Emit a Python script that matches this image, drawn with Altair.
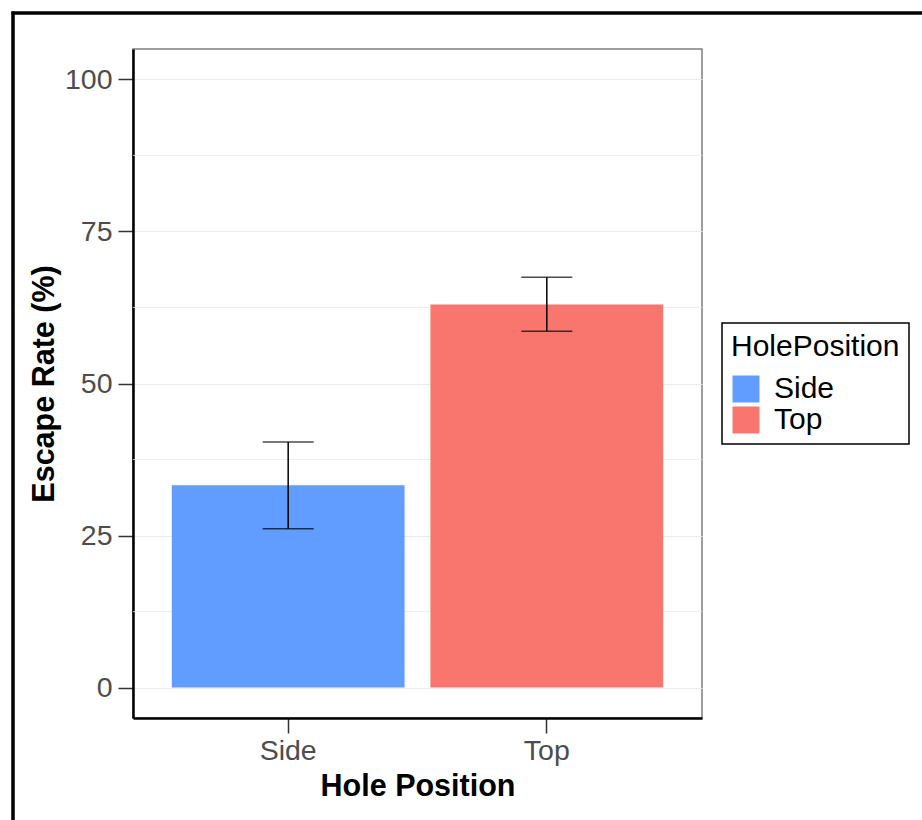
import altair as alt
import pandas as pd

positions = ["Side", "Top"]
escape_rate = [33.25, 63.0]
lower = [26.1, 58.6]
upper = [40.4, 67.45]
colors = ["#619CFF", "#F8766D"]
minor_breaks = [12.5, 37.5, 62.5, 87.5]

df = pd.DataFrame({"HolePosition": positions, "rate": escape_rate, "lo": lower, "hi": upper})
minor_df = pd.DataFrame({"m": minor_breaks})

FONT = "Liberation Sans"

xscale = alt.Scale(domain=positions, paddingInner=0.1, paddingOuter=0.15)
yscale = alt.Scale(domain=[-5, 105], nice=False, zero=False)

base = alt.Chart(df)

minor = alt.Chart(minor_df).mark_rule(color="#EBEBEB", strokeWidth=0.8).encode(
    y=alt.Y("m:Q", scale=yscale)
)

bars = base.mark_bar().encode(
    x=alt.X(
        "HolePosition:N",
        scale=xscale,
        title="Hole Position",
        axis=alt.Axis(
            bandPosition=0.5,
            labelAngle=0,
            labelFontSize=28.5,
            labelColor="#4D4D4D",
            labelPadding=3,
            titleFontSize=30.5,
            titleFontWeight="bold",
            titleColor="black",
            titlePadding=7,
            tickSize=15,
            tickColor="#333333",
            tickWidth=1.5,
            domainColor="black",
            domainWidth=2.5,
            gridColor="#EBEBEB",
            gridWidth=1.2,
        ),
    ),
    y=alt.Y(
        "rate:Q",
        scale=yscale,
        title="Escape Rate (%)",
        axis=alt.Axis(
            values=[0, 25, 50, 75, 100],
            labelFontSize=28.5,
            labelColor="#4D4D4D",
            labelPadding=6,
            titleFontSize=30.5,
            titleFontWeight="bold",
            titleColor="black",
            titlePadding=5,
            tickSize=15,
            tickColor="#333333",
            tickWidth=1.5,
            domainColor="black",
            domainWidth=2.5,
            gridColor="#EBEBEB",
            gridWidth=1.2,
        ),
    ),
    color=alt.Color(
        "HolePosition:N",
        scale=alt.Scale(domain=positions, range=colors),
        legend=alt.Legend(
            title="HolePosition",
            orient="none",
            legendX=589,
            legendY=274,
            symbolType="square",
            symbolSize=729,
            symbolStrokeWidth=0,
            symbolOpacity=1,
            labelFontSize=30,
            titleFontSize=30,
            titleFontWeight="normal",
            titleColor="black",
            labelColor="black",
            labelOffset=13,
            rowPadding=1,
            titlePadding=12,
            padding=9,
            strokeColor="black",
        ),
    ),
)

err = base.mark_rule(color="black", strokeWidth=1.5).encode(
    x=alt.X("HolePosition:N", scale=xscale),
    y=alt.Y("lo:Q", scale=yscale),
    y2="hi:Q",
)
cap_lo = base.mark_tick(color="black", size=51, thickness=1.5).encode(
    x=alt.X("HolePosition:N", scale=xscale),
    y=alt.Y("lo:Q", scale=yscale),
)
cap_hi = base.mark_tick(color="black", size=51, thickness=1.5).encode(
    x=alt.X("HolePosition:N", scale=xscale),
    y=alt.Y("hi:Q", scale=yscale),
)

frame_top = alt.Chart(minor_df.head(1)).mark_rule(color="black", strokeWidth=3.5, clip=False).encode(
    x=alt.value(-121.5), x2=alt.value(800), y=alt.value(-36)
)
frame_left = alt.Chart(minor_df.head(1)).mark_rule(color="black", strokeWidth=3.5, clip=False).encode(
    x=alt.value(-120), y=alt.value(-37.5), y2=alt.value(800)
)

chart = (
    alt.layer(minor, bars, err, cap_lo, cap_hi, frame_top, frame_left)
    .properties(
        width=569,
        height=669,
        autosize=alt.AutoSizeParams(type="none"),
        padding={"left": 133, "top": 49, "right": 220, "bottom": 102},
    )
    .configure(font=FONT)
    .configure_view(stroke="#7F7F7F", strokeWidth=1.5)
    .configure_legend(strokeWidth=1.5)
)

chart.save("out.html", embed_options={"renderer": "svg", "actions": False})
